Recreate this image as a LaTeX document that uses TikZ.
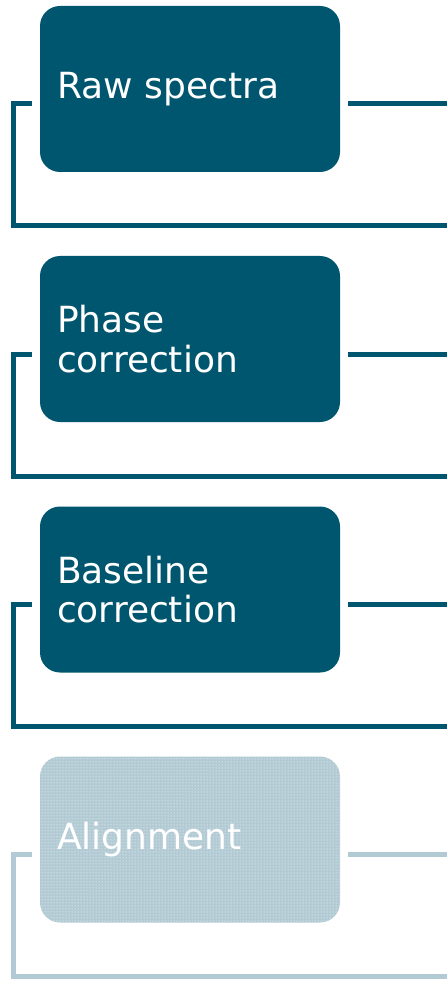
\documentclass[tikz,border=0pt]{standalone}
\usepackage{fontspec}
\setmainfont{DejaVu Sans}
\usepackage{xcolor}
\usetikzlibrary{positioning, calc, patterns}

\definecolor{listblue}{RGB}{0,86,110}
\definecolor{fadeblue}{RGB}{178,202,211}

\begin{document}
\begin{tikzpicture}[x=1pt, y=1pt,
        stepbox/.style={rectangle, rounded corners=20pt, minimum width=300pt, minimum height=166pt,
            text width=266pt, inner xsep=17pt, align=left, text=white,
            font=\fontsize{36}{39.5}\selectfont},
        bracket/.style={line width=5pt, draw=listblue},
        fadebracket/.style={line width=5pt, draw=fadeblue}]
    \useasboundingbox (0,0) rectangle (447,-981);

    \node[stepbox, fill=listblue] (raw) at (190,-89) {Raw spectra};
    \node[stepbox, fill=listblue] (phase) at (190,-339) {Phase\\correction};
    \node[stepbox, fill=listblue] (base) at (190,-589.5) {Baseline\\correction};
    \node[stepbox, fill=fadeblue, postaction={pattern=dots, pattern color=white}] (align) at (190,-839.5) {Alignment};

    \coordinate (raw end) at (447,-104);
    \coordinate (raw foot) at (447,-226);
    \coordinate (phase end) at (447,-354);
    \coordinate (phase foot) at (447,-476);
    \coordinate (base end) at (447,-604.5);
    \coordinate (base foot) at (447,-726.5);
    \coordinate (align end) at (447,-854.5);
    \coordinate (align foot) at (447,-976.5);

    \draw[bracket] ($(raw.east)+(8,-15)$) -- (raw end)
        ($(raw.west)+(-8,-15)$) -- ++(-18,0) |- (raw foot);
    \draw[bracket] ($(phase.east)+(8,-15)$) -- (phase end)
        ($(phase.west)+(-8,-15)$) -- ++(-18,0) |- (phase foot);
    \draw[bracket] ($(base.east)+(8,-15)$) -- (base end)
        ($(base.west)+(-8,-15)$) -- ++(-18,0) |- (base foot);
    \draw[fadebracket] ($(align.east)+(8,-15)$) -- (align end)
        ($(align.west)+(-8,-15)$) -- ++(-18,0) |- (align foot);
\end{tikzpicture}
\end{document}
